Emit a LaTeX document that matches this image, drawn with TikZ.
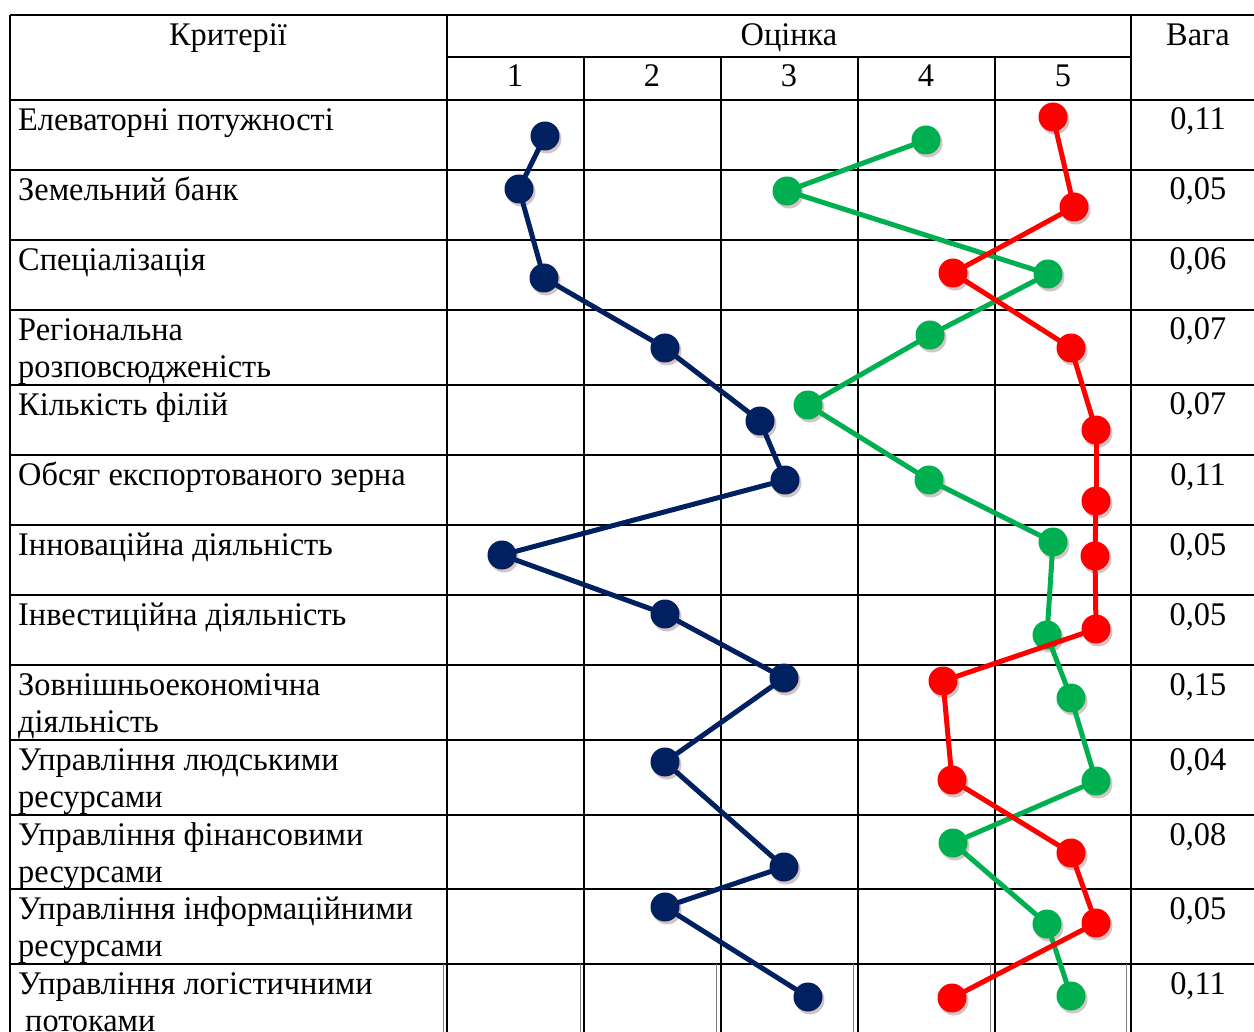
\documentclass[tikz,border=0pt]{standalone}
\usepackage{fontspec}
\setmainfont[FakeStretch=0.98]{Liberation Serif}
\usetikzlibrary{shadows}
\definecolor{navy}{RGB}{0,32,96}
\definecolor{grn}{RGB}{0,176,80}
\definecolor{rd}{RGB}{255,0,0}
\definecolor{shade}{RGB}{214,196,196}

\begin{document}
\begin{tikzpicture}[x=1pt,y=-1pt,font=\fontsize{33}{37}\selectfont,
  tline/.style={draw=black,line width=1.3pt},
  crit/.style={anchor=north west,align=left,inner sep=0pt},
  wt/.style={anchor=base,inner sep=0pt},
  bubble/.style={circle,inner sep=0pt,minimum size=29pt,
    drop shadow={shadow xshift=2pt,shadow yshift=-3pt,fill=shade,opacity=1}},
  bdot/.style={bubble,fill=navy},
  gdot/.style={bubble,fill=grn},
  rdot/.style={bubble,fill=rd},
  series/.style={line width=5pt,line cap=round}]
  \useasboundingbox (0,0) rectangle (1254,1032);

  % table frame
  \draw[tline] (10,15) -- (1254,15);
  \draw[tline] (447,57) -- (1131,57);
  \foreach \y in {100,170,240,310,385,455,525,595,665,740,815,889,964}
    \draw[tline] (10,\y) -- (1254,\y);
  \foreach \x in {10,447,1131}
    \draw[tline] (\x,15) -- (\x,1032);
  \foreach \x in {584,721,858,995}
    \draw[tline] (\x,57) -- (\x,1032);
  \foreach \x in {443,580,716,853,990,1126}
    \draw[gray,line width=0.6pt] (\x,964) -- (\x,1032);

  % header
  \node[wt] (hcrit) at (228,46) {Критерії};
  \node[wt] (hmark) at (789,46) {Оцінка};
  \node[wt] (hwt)   at (1198,46) {Вага};
  \foreach \x [count=\i] in {515,652,789,926,1063}
    \node[wt] (n\i) at (\x,87) {\i};

  % criteria and weights
  \foreach \y/\t/\w [count=\i] in {
      100/{Елеваторні потужності}/{0,11},
      170/{Земельний банк}/{0,05},
      240/{Спеціалізація}/{0,06},
      310/{Регіональна\\розповсюдженість}/{0,07},
      385/{Кількість філій}/{0,07},
      455/{Обсяг експортованого зерна}/{0,11},
      525/{Інноваційна діяльність}/{0,05},
      595/{Інвестиційна діяльність}/{0,05},
      665/{Зовнішньоекономічна\\діяльність}/{0,15},
      740/{Управління людськими\\ресурсами}/{0,04},
      815/{Управління фінансовими\\ресурсами}/{0,08},
      889/{Управління інформаційними\\ресурсами}/{0,05},
      964/{Управління логістичними\\\hspace{7pt}потоками}/{0,11}}
  {
    \node[crit] (c\i) at (18,\y+4) {\strut\t};
    \node[wt]   (w\i) at (1198,\y+30) {\w};
  }

  % scores
  \foreach \x/\y [count=\i] in {545/136,519/189,544/278,665/348,760/421,785/480,
      502/555,665/614,784/678,665/762,784/867,665/907,808/997}
    \node[bdot] (b\i) at (\x,\y) {};
  \foreach \x/\y [count=\i] in {926/140,787/191,1048/274,930/335,808/405,929/480,
      1053/542,1047/635,1071/698,1096/781,953/843,1047/924,1071/996}
    \node[gdot] (g\i) at (\x,\y) {};
  \foreach \x/\y [count=\i] in {1053/117,1074/207,953/273,1071/348,1096/430,1096/501,
      1095/556,1096/629,943/681,952/780,1071/853,1096/923,952/998}
    \node[rdot] (r\i) at (\x,\y) {};

  \foreach \i [evaluate=\i as \j using int(\i+1)] in {1,...,12}
  {
    \draw[series,navy] (b\i) -- (b\j);
    \draw[series,grn]  (g\i) -- (g\j);
    \draw[series,rd]   (r\i) -- (r\j);
  }
\end{tikzpicture}
\end{document}
